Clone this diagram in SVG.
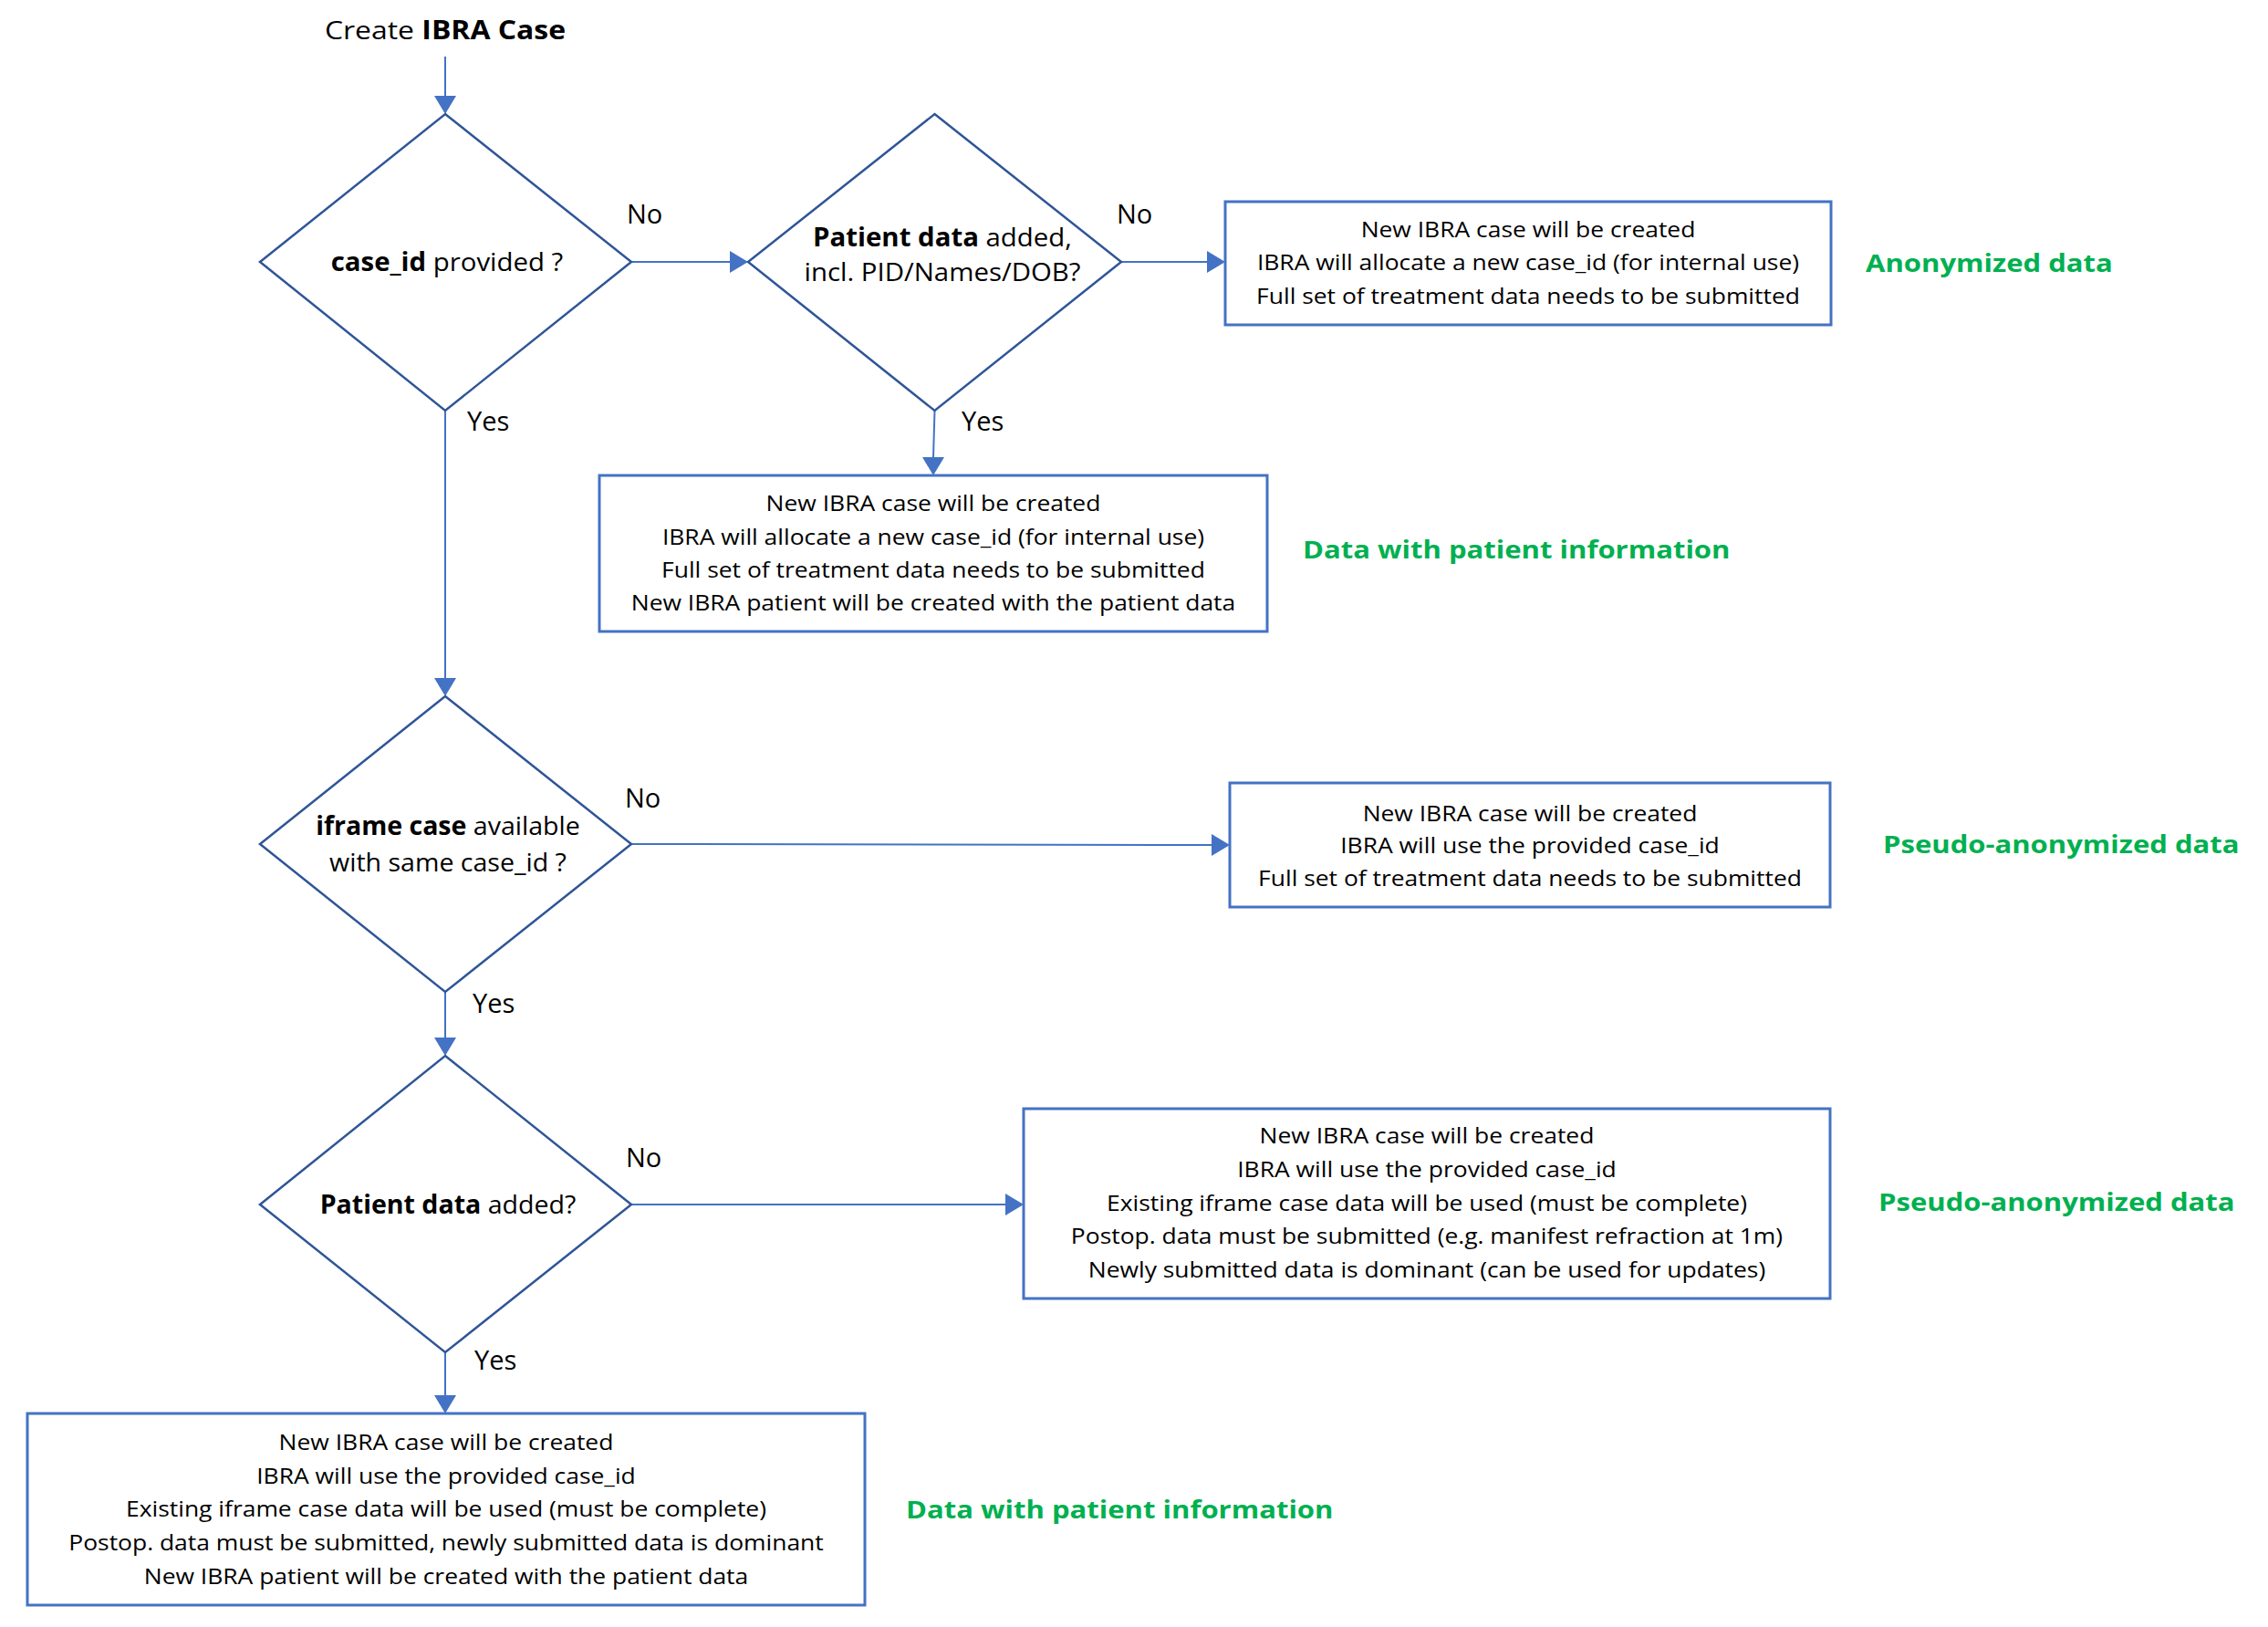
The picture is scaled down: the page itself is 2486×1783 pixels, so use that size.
<svg xmlns="http://www.w3.org/2000/svg" width="2486" height="1783" viewBox="0 0 2486 1783">
<style>
.t{font-family:"Open Sans","Liberation Sans",sans-serif;fill:#000}
.d{font-size:28px}
.l{font-size:29px}
.b{font-size:23px}
.g{font-family:"Open Sans","Liberation Sans",sans-serif;font-size:27px;font-weight:bold;fill:#00B050}
.dia{fill:#fff;stroke:#2F5597;stroke-width:2.5}
.box{fill:#fff;stroke:#4472C4;stroke-width:3}
.c{fill:none;stroke:#4472C4;stroke-width:2}
.ah{fill:#4472C4}
</style>
<rect width="2486" height="1783" fill="#fff"/>
<g id="connectors">
<line class="c" x1="488" y1="62" x2="488" y2="106"/>
<path class="ah" d="M476,105 L500,105 L488,125 z"/>
<line class="c" x1="692" y1="287" x2="801" y2="287"/>
<path class="ah" d="M800,275 L820,287 L800,299 z"/>
<line class="c" x1="1229" y1="287" x2="1324" y2="287"/>
<path class="ah" d="M1323,275 L1343,287 L1323,299 z"/>
<line class="c" x1="1024.5" y1="450" x2="1023" y2="502"/>
<path class="ah" d="M1011,501 L1035,501 L1023,521 z"/>
<line class="c" x1="488" y1="450" x2="488" y2="744"/>
<path class="ah" d="M476,743 L500,743 L488,763 z"/>
<line class="c" x1="692" y1="925" x2="1329" y2="926"/>
<path class="ah" d="M1328,914 L1348,926 L1328,938 z"/>
<line class="c" x1="488" y1="1087" x2="488" y2="1138"/>
<path class="ah" d="M476,1137 L500,1137 L488,1157 z"/>
<line class="c" x1="692" y1="1320" x2="1103" y2="1320"/>
<path class="ah" d="M1102,1308 L1122,1320 L1102,1332 z"/>
<line class="c" x1="488" y1="1482" x2="488" y2="1530"/>
<path class="ah" d="M476,1529 L500,1529 L488,1549 z"/>
</g>
<g id="title">
<text class="t d" x="488" y="43" text-anchor="middle" transform="matrix(1.14,0,0,1,-68.32,0)">Create <tspan font-weight="bold">IBRA Case</tspan></text>
</g>
<g id="d1">
<polygon class="dia" points="488,125 692,287 488,450 285,287"/>
<text class="t d" x="490" y="297" text-anchor="middle" transform="matrix(1.05,0,0,1,-24.5,0)"><tspan font-weight="bold">case_id</tspan> provided ?</text>
</g>
<g id="d2">
<polygon class="dia" points="1024.5,125 1229,287 1024.5,450 820,287"/>
<g transform="matrix(1.05,0,0,1,-51.65,0)">
<text class="t d" x="1033" y="270" text-anchor="middle"><tspan font-weight="bold">Patient data</tspan> added,</text>
<text class="t d" x="1033" y="308" text-anchor="middle">incl. PID/Names/DOB?</text>
</g>
</g>
<g id="box1">
<rect class="box" x="1343" y="221" width="664" height="135"/>
<g transform="matrix(1.15,0,0,1,-251.25,0)">
<text class="t b" x="1675" y="260" text-anchor="middle">New IBRA case will be created</text>
<text class="t b" x="1675" y="296" text-anchor="middle">IBRA will allocate a new case_id (for internal use)</text>
<text class="t b" x="1675" y="333" text-anchor="middle">Full set of treatment data needs to be submitted</text>
</g>
</g>
<g id="box2">
<rect class="box" x="657" y="521" width="732" height="171"/>
<g transform="matrix(1.15,0,0,1,-153.45,0)">
<text class="t b" x="1023" y="560" text-anchor="middle">New IBRA case will be created</text>
<text class="t b" x="1023" y="597" text-anchor="middle">IBRA will allocate a new case_id (for internal use)</text>
<text class="t b" x="1023" y="633" text-anchor="middle">Full set of treatment data needs to be submitted</text>
<text class="t b" x="1023" y="669" text-anchor="middle">New IBRA patient will be created with the patient data</text>
</g>
</g>
<g id="d3">
<polygon class="dia" points="488,763 692,925 488,1087 285,925"/>
<g transform="matrix(1.02,0,0,1,-9.82,0)">
<text class="t d" x="491" y="915" text-anchor="middle"><tspan font-weight="bold">iframe case</tspan> available</text>
<text class="t d" x="491" y="955" text-anchor="middle">with same case_id ?</text>
</g>
</g>
<g id="box3">
<rect class="box" x="1348" y="858" width="658" height="136"/>
<g transform="matrix(1.15,0,0,1,-251.55,0)">
<text class="t b" x="1677" y="900" text-anchor="middle">New IBRA case will be created</text>
<text class="t b" x="1677" y="935" text-anchor="middle">IBRA will use the provided case_id</text>
<text class="t b" x="1677" y="971" text-anchor="middle">Full set of treatment data needs to be submitted</text>
</g>
</g>
<g id="d4">
<polygon class="dia" points="488,1157 692,1320 488,1482 285,1320"/>
<text class="t d" x="491" y="1330" text-anchor="middle" transform="matrix(1.02,0,0,1,-9.82,0)"><tspan font-weight="bold">Patient data</tspan> added?</text>
</g>
<g id="box4">
<rect class="box" x="1122" y="1215" width="884" height="208"/>
<g transform="matrix(1.15,0,0,1,-234.6,0)">
<text class="t b" x="1564" y="1253" text-anchor="middle">New IBRA case will be created</text>
<text class="t b" x="1564" y="1290" text-anchor="middle">IBRA will use the provided case_id</text>
<text class="t b" x="1564" y="1327" text-anchor="middle">Existing iframe case data will be used (must be complete)</text>
<text class="t b" x="1564" y="1363" text-anchor="middle">Postop. data must be submitted (e.g. manifest refraction at 1m)</text>
<text class="t b" x="1564" y="1400" text-anchor="middle">Newly submitted data is dominant (can be used for updates)</text>
</g>
</g>
<g id="box5">
<rect class="box" x="30" y="1549" width="918" height="210"/>
<g transform="matrix(1.15,0,0,1,-73.35,0)">
<text class="t b" x="489" y="1589" text-anchor="middle">New IBRA case will be created</text>
<text class="t b" x="489" y="1626" text-anchor="middle">IBRA will use the provided case_id</text>
<text class="t b" x="489" y="1662" text-anchor="middle">Existing iframe case data will be used (must be complete)</text>
<text class="t b" x="489" y="1699" text-anchor="middle">Postop. data must be submitted, newly submitted data is dominant</text>
<text class="t b" x="489" y="1736" text-anchor="middle">New IBRA patient will be created with the patient data</text>
</g>
</g>
<g id="labels">
<text class="t l" x="687" y="245">No</text>
<text class="t l" x="1224" y="245">No</text>
<text class="t l" x="512" y="472">Yes</text>
<text class="t l" x="1054" y="472">Yes</text>
<text class="t l" x="685" y="885">No</text>
<text class="t l" x="518" y="1110">Yes</text>
<text class="t l" x="686" y="1279">No</text>
<text class="t l" x="520" y="1501">Yes</text>
</g>
<g id="categories">
<text class="g" x="2045" y="298" transform="matrix(1.15,0,0,1,-306.75,0)">Anonymized data</text>
<text class="g" x="1428" y="612" transform="matrix(1.15,0,0,1,-214.2,0)">Data with patient information</text>
<text class="g" x="2064" y="935" transform="matrix(1.15,0,0,1,-309.6,0)">Pseudo-anonymized data</text>
<text class="g" x="2059" y="1327" transform="matrix(1.15,0,0,1,-308.85,0)">Pseudo-anonymized data</text>
<text class="g" x="993" y="1664" transform="matrix(1.15,0,0,1,-148.95,0)">Data with patient information</text>
</g>
</svg>
